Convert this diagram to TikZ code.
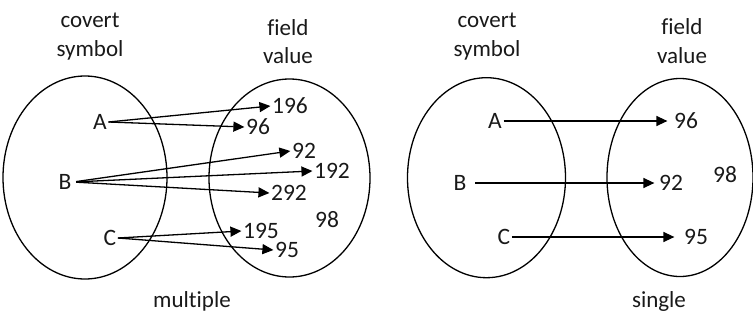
\documentclass[tikz,border=0pt]{standalone}
\usepackage{fontspec}
\setmainfont[Ligatures=NoCommon]{Carlito}
\usetikzlibrary{arrows.meta}
\begin{document}
\begin{tikzpicture}[x=1pt,y=-1pt,
  lbl/.style={font=\fontsize{23.5}{28}\selectfont, inner sep=1.5pt, text=black!90},
  ttl/.style={font=\fontsize{23}{28}\selectfont, inner sep=0pt, anchor=base, text=black!90},
  set/.style={line width=1.3pt},
  arr/.style={line width=1.3pt, -{Triangle[length=11pt,width=10pt]}}]
\useasboundingbox (0,0) rectangle (753,322);
% ---------- left panel (multiple) ----------
\draw[set] (85,177.5) ellipse [x radius=82, y radius=101.5];
\draw[set] (289.5,178) ellipse [x radius=80.5, y radius=99];
\node[ttl] (t1a) at (90,27) {covert};
\node[ttl] (t1b) at (90,56) {symbol};
\node[ttl] (t2a) at (288,35) {field};
\node[ttl] (t2b) at (288,63) {value};
\node[ttl] (m) at (192,307) {multiple};
\node[lbl] (A1) at (100,122) {A};
\node[lbl] (B1) at (65,182) {B};
\node[lbl] (C1) at (110,238) {C};
\node[lbl] (v196) at (290,106) {196};
\node[lbl] (v96a) at (258,127) {96};
\node[lbl] (v92a) at (304,151) {92};
\node[lbl] (v192) at (332,171) {192};
\node[lbl] (v292) at (289,193) {292};
\node[lbl] (v98a) at (327,220) {98};
\node[lbl] (v195) at (261,231) {195};
\node[lbl] (v95a) at (287,250) {95};
\draw[arr] (A1.east) -- (v196.west);
\draw[arr] (A1.east) -- (v96a.west);
\draw[arr,shorten <=3pt] (B1.east) -- (v92a.west);
\draw[arr,shorten <=3pt] (B1.east) -- (v192.west);
\draw[arr,shorten <=3pt] (B1.east) -- (v292.west);
\draw[arr] (C1.east) -- (v195.west);
\draw[arr] (C1.east) -- (v95a.west);
% ---------- right panel (single) ----------
\draw[set] (486.5,177.7) ellipse [x radius=79, y radius=100];
\draw[set] (680,177.5) ellipse [x radius=73, y radius=99];
\node[ttl] (t3a) at (487,27) {covert};
\node[ttl] (t3b) at (487,56) {symbol};
\node[ttl] (t4a) at (682,34) {field};
\node[ttl] (t4b) at (682,63) {value};
\node[ttl] (s) at (659,307) {single};
\node[lbl] (A2) at (495,121) {A};
\node[lbl] (B2) at (460,183) {B};
\node[lbl] (C2) at (504,237) {C};
\node[lbl] (v96b) at (686,121) {96};
\node[lbl] (v92b) at (671,183) {92};
\node[lbl] (v98b) at (725,175) {98};
\node[lbl] (v95b) at (696,237) {95};
\draw[arr,shorten >=5pt] (A2.east) -- (v96b.west);
\draw[arr,shorten <=7pt,shorten >=3pt] (B2.east) -- (v92b.west);
\draw[arr,shorten >=8pt] (C2.east) -- (v95b.west);
\end{tikzpicture}
\end{document}
